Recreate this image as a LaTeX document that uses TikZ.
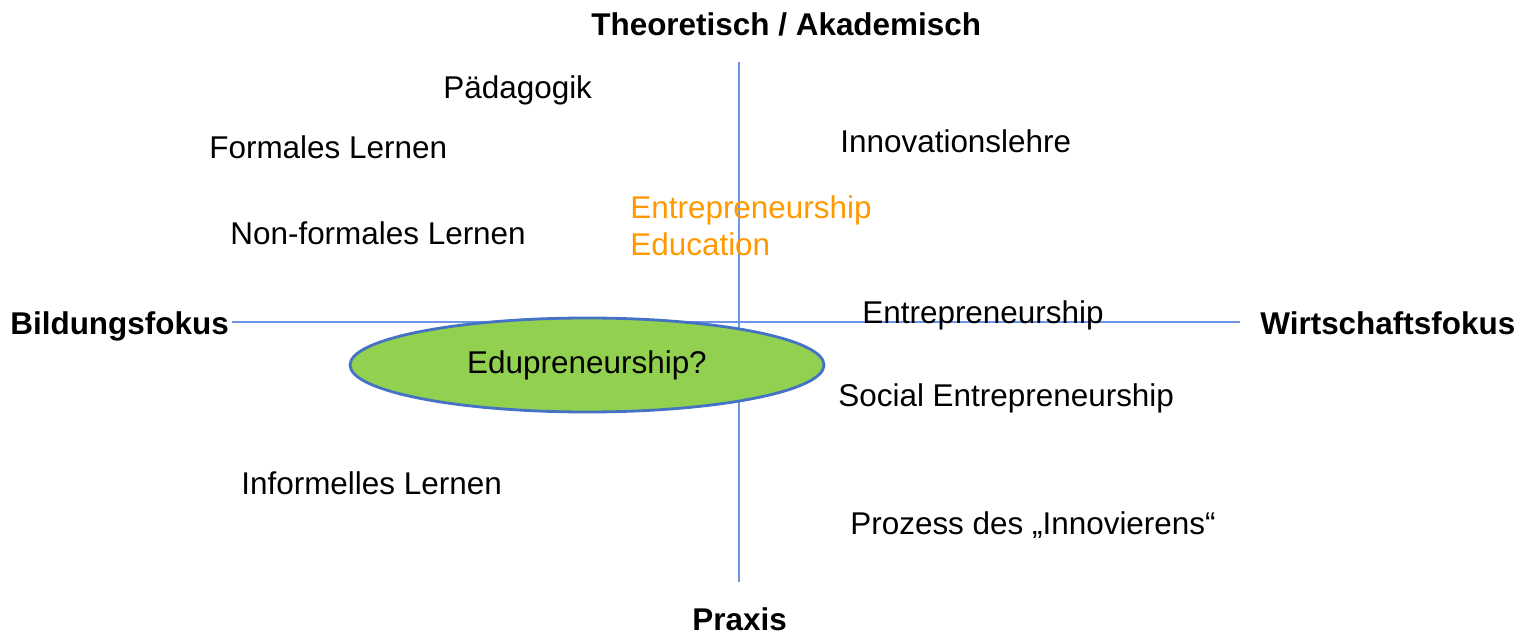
\documentclass[tikz,border=0pt]{standalone}
\usepackage{fontspec}
\setmainfont{Liberation Sans}
\usepackage{xcolor}
\usetikzlibrary{shapes,positioning,calc}
\definecolor{axisblue}{RGB}{110,150,230}
\definecolor{eduorange}{RGB}{255,153,0}
\definecolor{edugreen}{RGB}{146,208,80}
\definecolor{edublue}{RGB}{68,114,196}
\tikzset{
    lbl/.style={anchor=base west, inner sep=0pt, font=\fontsize{17.9}{21}\selectfont},
    axlbl/.style={lbl, font=\fontsize{17.9}{21}\selectfont\bfseries},
}
\begin{document}
\begin{tikzpicture}[x=0.02cm, y=-0.02cm]
    \useasboundingbox (0,0) rectangle (1533,634);

    % Achsen
    \coordinate (top) at (739,62);
    \coordinate (bottom) at (739,582);
    \coordinate (left) at (232,322);
    \coordinate (right) at (1240,322);
    \draw[axisblue, line width=0.6pt] (left) -- (right);
    \draw[axisblue, line width=0.6pt] (top) -- (bottom);

    % Achsenbeschriftung
    \node[axlbl] (theo) at (591,36) {Theoretisch / Akademisch};
    \node[axlbl] (praxis) at (692,630) {Praxis};
    \node[axlbl] (bildung) at (10,335) {Bildungsfokus};
    \node[axlbl] (wirtschaft) at (1260,335) {Wirtschaftsfokus};

    % Bildung
    \node[lbl] (paed) at (443,99) {Pädagogik};
    \node[lbl] (formal) at (209,159) {Formales Lernen};
    \node[lbl] (nonformal) at (230,245) {Non-formales Lernen};
    \node[lbl] (informell) at (241,494) {Informelles Lernen};

    % Wirtschaft
    \node[lbl] (innolehre) at (840,153) {Innovationslehre};
    \node[lbl] (entre) at (862,324) {Entrepreneurship};
    \node[lbl] (social) at (838,406) {Social Entrepreneurship};
    \node[lbl] (prozess) at (850,534) {Prozess des „Innovierens“};

    % Entrepreneurship Education
    \node[lbl, eduorange, align=left, anchor=north west] (eedu) at (630,195)
        {Entrepreneurship\\Education};

    % Edupreneurship
    \node[ellipse, draw=edublue, line width=1.6pt, fill=edugreen,
          minimum width=474*0.02cm, minimum height=94*0.02cm,
          font=\fontsize{17.9}{21}\selectfont] (edu) at (587,365) {Edupreneurship?};
\end{tikzpicture}
\end{document}
